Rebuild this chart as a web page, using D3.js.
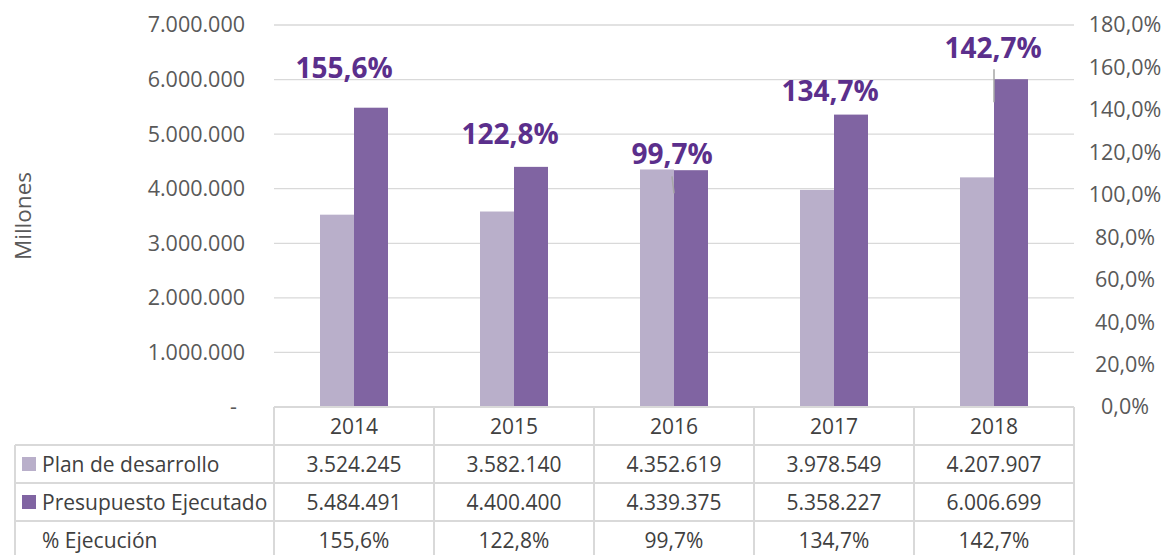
<!DOCTYPE html>
<html>
<head>
  <meta charset="utf-8">
  <style>
    body { margin: 0; background: #fff; font-family: "Open Sans", sans-serif; }
    svg text { fill: #595959; }
  </style>
  <title>Ejecución</title>
</head>
<body>
  <script src="https://cdn.jsdelivr.net/npm/d3@7"></script>
  <script>
    // data
    var years = ["2014", "2015", "2016", "2017", "2018"];
    var plan = [3524245, 3582140, 4352619, 3978549, 4207907];
    var ejecutado = [5484491, 4400400, 4339375, 5358227, 6006699];
    var ejecucion = [155.6, 122.8, 99.7, 134.7, 142.7];
    var leftTicks = [0, 1000000, 2000000, 3000000, 4000000, 5000000, 6000000, 7000000];
    var rightTicks = [0, 20, 40, 60, 80, 100, 120, 140, 160, 180];
    var seriesNames = ["Plan de desarrollo", "Presupuesto Ejecutado", "% Ejecución"];

    var W = 1171, H = 555;
    var plotLeft = 274, plotRight = 1074, plotTop = 25, plotBottom = 407;
    var rowH = 38;
    var tableLeft = 15;
    var lightC = "#b9afca", darkC = "#8064a2", labelC = "#5b2f8c", gridC = "#d9d9d9";

    // manual label nudges (like dragged Excel labels)
    var labelShift = [[-10, -9], [-4, -12], [-2, -41], [-4, -30], [-1, -56]];
    var leaders = [null, null, [[-2, -19], [0, -2]], null, [[0, -35], [0, -2]]];

    var fmtNum = function (v) { return d3.format(",")(v).replace(/,/g, "."); };
    var fmtPct = function (v) { return d3.format(".1f")(v).replace(".", ",") + "%"; };

    var svg = d3.select("body").append("svg")
      .attr("width", W).attr("height", H);

    var x = d3.scaleBand().domain(years).range([plotLeft, plotRight]);
    var y = d3.scaleLinear().domain([0, 7000000]).range([plotBottom, plotTop]);
    var yR = d3.scaleLinear().domain([0, 180]).range([plotBottom, plotTop]);
    var barW = 34;

    // gridlines
    svg.append("g").selectAll("line").data(leftTicks.filter(d => d > 0)).enter()
      .append("line")
      .attr("x1", plotLeft).attr("x2", plotRight)
      .attr("y1", d => y(d)).attr("y2", d => y(d))
      .attr("stroke", gridC).attr("stroke-width", 1.3);

    // left axis
    var yAxis = d3.axisLeft(y).tickValues(leftTicks).tickSize(0).tickPadding(0)
      .tickFormat(d => d === 0 ? "-" : fmtNum(d));
    var gl = svg.append("g").attr("transform", "translate(245,0)").call(yAxis);
    gl.select(".domain").remove();
    gl.selectAll("text").style("font-size", "21.5px").style("fill", "#595959")
      .attr("font-family", "Open Sans");
    gl.selectAll(".tick").filter(d => d === 0).select("text").attr("x", -8);

    // right axis
    var yAxisR = d3.axisRight(yR).tickValues(rightTicks).tickSize(0).tickPadding(0)
      .tickFormat(d => fmtPct(d));
    var gr = svg.append("g").attr("transform", "translate(1125,0)").call(yAxisR);
    gr.select(".domain").remove();
    gr.selectAll("text").style("font-size", "21.5px").style("fill", "#595959")
      .attr("text-anchor", "middle").attr("font-family", "Open Sans");

    // axis title
    svg.append("text")
      .attr("transform", "translate(31,216) rotate(-90)")
      .attr("text-anchor", "middle")
      .style("font-size", "22.5px")
      .text("Millones");

    // bars
    svg.append("g").selectAll("rect").data(plan).enter().append("rect")
      .attr("x", (d, i) => x(years[i]) + x.bandwidth() / 2 - barW)
      .attr("y", d => y(d))
      .attr("width", barW)
      .attr("height", d => plotBottom - y(d))
      .attr("fill", lightC);

    svg.append("g").selectAll("rect").data(ejecutado).enter().append("rect")
      .attr("x", (d, i) => x(years[i]) + x.bandwidth() / 2)
      .attr("y", d => y(d))
      .attr("width", barW)
      .attr("height", d => plotBottom - y(d))
      .attr("fill", darkC);

    // leader lines
    ejecucion.forEach(function (v, i) {
      if (!leaders[i]) return;
      var cx = x(years[i]) + x.bandwidth() / 2, cy = yR(v);
      svg.append("line")
        .attr("x1", cx + leaders[i][0][0]).attr("y1", cy + leaders[i][0][1])
        .attr("x2", cx + leaders[i][1][0]).attr("y2", cy + leaders[i][1][1])
        .attr("stroke", "#a6a6a6").attr("stroke-width", 1.5);
    });

    // % labels
    svg.append("g").selectAll("text").data(ejecucion).enter().append("text")
      .attr("x", (d, i) => x(years[i]) + x.bandwidth() / 2 + labelShift[i][0])
      .attr("y", (d, i) => yR(d) + labelShift[i][1])
      .attr("text-anchor", "middle")
      .attr("dy", "0.36em")
      .style("font-size", "28px")
      .style("font-weight", "bold")
      .style("fill", labelC)
      .text(d => fmtPct(d));

    // data table
    var tbl = svg.append("g");
    var rows = [plan, ejecutado, ejecucion];
    var lineStyle = function (sel) { return sel.attr("stroke", gridC).attr("stroke-width", 2); };

    // horizontal lines
    lineStyle(tbl.append("line").attr("x1", plotLeft).attr("x2", plotRight)
      .attr("y1", plotBottom).attr("y2", plotBottom));
    for (var r = 1; r <= 3; r++) {
      lineStyle(tbl.append("line").attr("x1", tableLeft).attr("x2", plotRight)
        .attr("y1", plotBottom + r * rowH).attr("y2", plotBottom + r * rowH));
    }
    // vertical lines
    years.forEach(function (yr, i) {
      lineStyle(tbl.append("line").attr("x1", x(yr)).attr("x2", x(yr))
        .attr("y1", plotBottom).attr("y2", H));
    });
    lineStyle(tbl.append("line").attr("x1", plotRight).attr("x2", plotRight)
      .attr("y1", plotBottom).attr("y2", H));
    lineStyle(tbl.append("line").attr("x1", tableLeft).attr("x2", tableLeft)
      .attr("y1", plotBottom + rowH).attr("y2", H));

    // header
    tbl.selectAll(".yr").data(years).enter().append("text")
      .attr("x", d => x(d) + x.bandwidth() / 2)
      .attr("y", plotBottom + rowH / 2)
      .attr("dy", "0.36em")
      .attr("text-anchor", "middle")
      .style("font-size", "21px")
      .style("fill", "#404040")
      .text(d => d);

    rows.forEach(function (vals, r) {
      var cy = plotBottom + (r + 1) * rowH + rowH / 2;
      tbl.append("g").selectAll("text").data(vals).enter().append("text")
        .attr("x", (d, i) => x(years[i]) + x.bandwidth() / 2)
        .attr("y", cy)
        .attr("dy", "0.36em")
        .attr("text-anchor", "middle")
        .style("font-size", "21px")
        .style("fill", "#404040")
        .text(d => r === 2 ? fmtPct(d) : fmtNum(d));
      if (r < 2) {
        tbl.append("rect")
          .attr("x", 22).attr("y", cy - 7).attr("width", 14).attr("height", 14)
          .attr("fill", r === 0 ? lightC : darkC);
      }
      tbl.append("text")
        .attr("x", 42).attr("y", cy).attr("dy", "0.36em")
        .style("font-size", "21px")
        .style("fill", "#404040")
        .text(seriesNames[r]);
    });
  </script>
</body>
</html>
